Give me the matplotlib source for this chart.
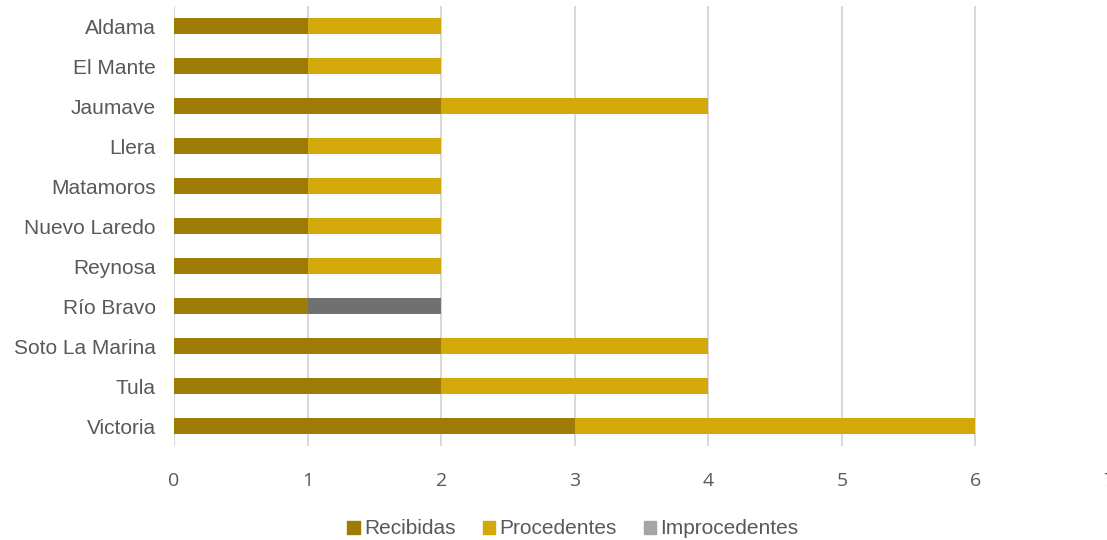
import numpy as np
import matplotlib.pyplot as plt
from matplotlib.patches import Patch

municipios = ["Aldama", "El Mante", "Jaumave", "Llera", "Matamoros", "Nuevo Laredo",
              "Reynosa", "Río Bravo", "Soto La Marina", "Tula", "Victoria"]
recibidas = [1, 1, 2, 1, 1, 1, 1, 1, 2, 2, 3]
procedentes = [1, 1, 2, 1, 1, 1, 1, 0, 2, 2, 3]
improcedentes = [0, 0, 0, 0, 0, 0, 0, 1, 0, 0, 0]
xticks = [0, 1, 2, 3, 4, 5, 6, 7]

c_rec = "#9E7B05"
c_pro = "#D3A80B"
c_imp = "#707070"
c_imp_leg = "#A5A5A5"
txt = "#595959"

fig = plt.figure(figsize=(11.07, 5.4), dpi=100)
ax = fig.add_axes([174 / 1107, 1 - 446 / 540, (1109 - 174) / 1107, 440 / 540])

y = np.arange(len(municipios))
rec = np.array(recibidas)
pro = np.array(procedentes)
imp = np.array(improcedentes)
h = 0.4
ax.barh(y, rec, height=h, color=c_rec, zorder=3)
ax.barh(y, pro, height=h, left=rec, color=c_pro, zorder=3)
ax.barh(y, imp, height=h, left=rec + pro, color=c_imp, zorder=3)

ax.set_xlim(0, 7)
ax.set_ylim(len(municipios) - 0.5, -0.5)
ax.set_xticks(xticks)
ax.set_xticklabels([str(t) for t in xticks], fontfamily="Open Sans", fontsize=14, color=txt)
ax.set_yticks(y)
ax.set_yticklabels(municipios, fontfamily="Liberation Sans", fontsize=15, color=txt)
ax.tick_params(axis="both", length=0)
ax.tick_params(axis="x", pad=19)
ax.tick_params(axis="y", pad=13)
ax.grid(axis="x", color="#D9D9D9", linewidth=1.5, zorder=0)
for s in ax.spines.values():
    s.set_visible(False)

handles = [Patch(color=c_rec, label="Recibidas"),
           Patch(color=c_pro, label="Procedentes"),
           Patch(color=c_imp_leg, label="Improcedentes")]
fig.legend(handles=handles, loc="center", bbox_to_anchor=(573 / 1107, 1 - 529 / 540),
           ncol=3, frameon=False, prop={"family": "Liberation Sans", "size": 15},
           labelcolor=txt, handlelength=0.6, handleheight=0.6, handletextpad=0.2,
           columnspacing=1.3)

fig.savefig("out.png", dpi=100)
